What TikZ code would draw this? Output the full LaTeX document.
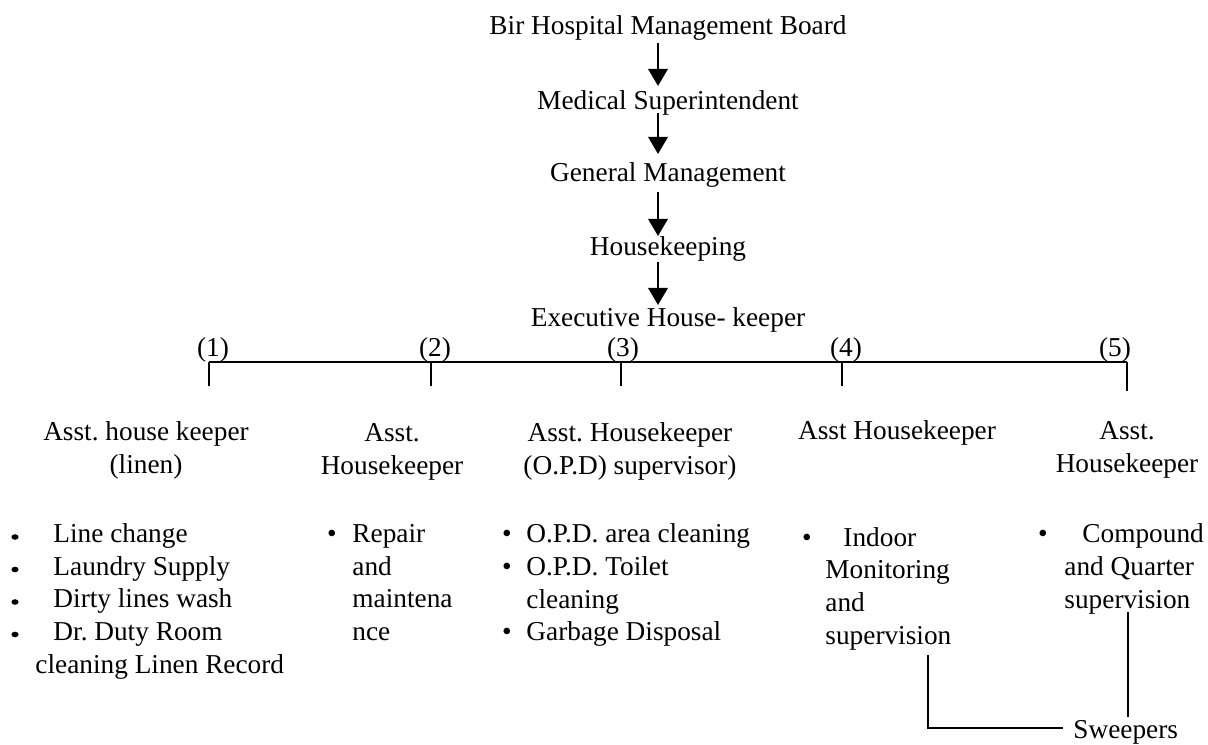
\documentclass[tikz,border=0pt]{standalone}
\usepackage{fontspec}
\setmainfont{Liberation Serif}
\usetikzlibrary{arrows.meta,calc}
\frenchspacing
\begin{document}
\begin{tikzpicture}[x=0.4396pt,y=-0.4396pt,
  every node/.style={inner sep=0pt,font=\fontsize{12}{14.3}\selectfont},
  title/.style={anchor=base},
  head/.style={anchor=base,align=center},
  item/.style={anchor=base west,align=left},
  dot/.style={anchor=base},
  arr/.style={line width=0.8pt,-{Triangle[length=7.5pt,width=8.6pt]}},
  rule/.style={line width=0.7pt}]
\useasboundingbox (0,0) rectangle (1208,745);

% chain of command
\coordinate (ax) at (658,0);
\node[title] (board) at (668,35)  {Bir Hospital Management Board};
\node[title] (med)   at (668,110) {Medical Superintendent};
\node[title] (gen)   at (668,182) {General Management};
\node[title] (hk)    at (668,256) {Housekeeping};
\node[title] (exec)  at (668,327) {Executive House- keeper};

\draw[arr] ($(board.base -| ax)+(0,8)$) -- ($(med.base -| ax)+(0,-24)$);
\draw[arr] ($(med.base -| ax)+(0,3)$)   -- ($(gen.base -| ax)+(0,-28)$);
\draw[arr] ($(gen.base -| ax)+(0,10)$)  -- ($(hk.base -| ax)+(0,-20)$);
\draw[arr] ($(hk.base -| ax)+(0,6)$)    -- ($(exec.base -| ax)+(0,-22)$);

% branch bar with its five drops
\coordinate (b1) at (209,362);
\coordinate (b2) at (431,362);
\coordinate (b3) at (621,362);
\coordinate (b4) at (842,362);
\coordinate (b5) at (1127,362);
\coordinate (d1) at (209,386);
\coordinate (d2) at (431,386);
\coordinate (d3) at (621,386);
\coordinate (d4) at (842,386);
\coordinate (d5) at (1127,391);
\draw[rule] (b1) -- (b5);
\foreach \i in {1,...,5} \draw[rule] (b\i) -- (d\i);

\node[title] (k1) at (213,357)  {(1)};
\node[title] (k2) at (435,357)  {(2)};
\node[title] (k3) at (623,357)  {(3)};
\node[title] (k4) at (846,357)  {(4)};
\node[title] (k5) at (1115,357) {(5)};

% assistant housekeepers (a multi-line node sits on its last baseline)
\node[head] (h1) at (146,473.5)  {Asst. house keeper\\(linen)};
\node[head] (h2) at (392,474.5)  {Asst.\\Housekeeper};
\node[head] (h3) at (630,474.5)  {Asst. Housekeeper\\(O.P.D) supervisor)};
\node[head] (h4) at (897,440)    {Asst Housekeeper};
\node[head] (h5) at (1127,472.5) {Asst.\\Housekeeper};

% duties of (1)
\foreach \y in {543,575.5,608,640.5}
  \fill ($(0,\y)+(15,-6)$) ellipse [x radius=3.6, y radius=2.8];
\node[item] (l1) at (53,640.5) {Line change\\Laundry Supply\\Dirty lines wash\\Dr. Duty Room};
\node[item] (l1b) at (35,673) {cleaning Linen Record};

% duties of (2)
\node[dot] at (332,543) {\textbullet};
\node[item] (l2) at (352,640.5) {Repair\\and\\maintena\\nce};

% duties of (3)
\node[dot] at (507,543) {\textbullet};
\node[dot] at (507,575.5) {\textbullet};
\node[dot] at (507,640.5) {\textbullet};
\node[item] (l3a) at (526,543) {O.P.D. area cleaning};
\node[item] (l3b) at (526,608) {O.P.D. Toilet\\cleaning};
\node[item] (l3c) at (526,640.5) {Garbage Disposal};

% duties of (4)
\node[dot] at (807,547) {\textbullet};
\node[item] (l4a) at (843,547) {Indoor};
\node[item] (l4b) at (825,644) {Monitoring\\and\\supervision};

% duties of (5)
\node[dot] at (1043,543) {\textbullet};
\node[item] (l5a) at (1082,543) {Compound};
\node[item] (l5b) at (1064,608) {and Quarter\\supervision};

% sweepers report to (4) and (5)
\node[anchor=base west] (sw) at (1073,738) {Sweepers};
\coordinate (c4) at (928,655);
\coordinate (c5) at (1128,612);
\draw[rule] (c4) |- ($(sw.base west)+(-10,-10)$);
\draw[rule] (c5) -- ($(sw.base west -| c5)+(0,-21)$);
\end{tikzpicture}
\end{document}
